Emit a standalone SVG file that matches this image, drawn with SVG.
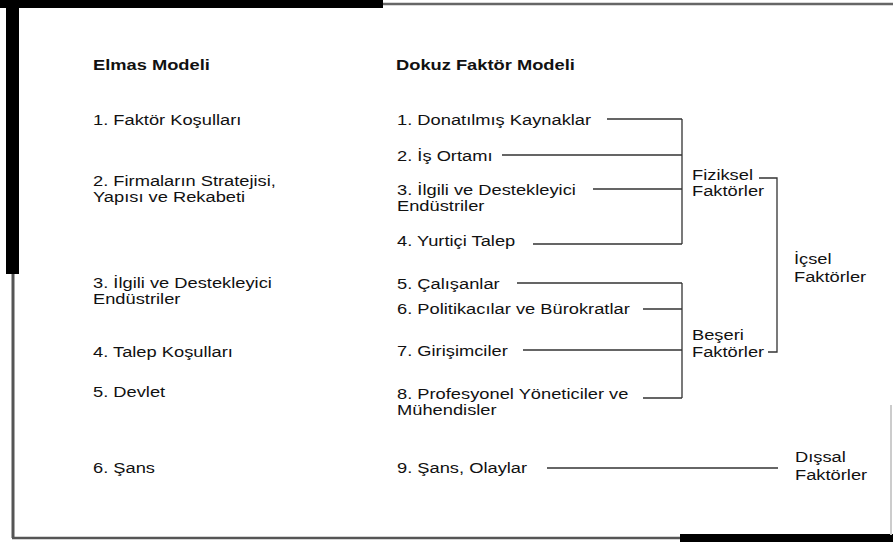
<svg xmlns="http://www.w3.org/2000/svg" width="893" height="543" viewBox="0 0 893 543">
<style>
text{font-family:"Liberation Sans",Arial,sans-serif;font-size:15px;fill:#111}
.b{font-weight:bold}
.c{stroke:#333;stroke-width:1.3;fill:none}
</style>
<rect width="893" height="543" fill="#fff"/>
<g id="frame">
<rect x="0" y="0" width="383" height="8" fill="#000"/>
<rect x="6" y="0" width="13" height="274" fill="#000"/>
<line x1="383" y1="4" x2="893" y2="4" stroke="#666" stroke-width="2.5"/>
<line x1="13" y1="274" x2="13" y2="538" stroke="#555" stroke-width="3"/>
<line x1="12" y1="538" x2="680" y2="538" stroke="#555" stroke-width="2.5"/>
<rect x="680" y="534" width="213" height="8" fill="#000"/>
<line x1="891" y1="405" x2="891" y2="535" stroke="#ccc" stroke-width="2"/>
</g>
<g id="left-column">
<text class="b" transform="translate(93 70) scale(1.22 1)">Elmas Modeli</text>
<text transform="translate(93 125) scale(1.22 1)">1. Faktör Koşulları</text>
<text transform="translate(93 186) scale(1.22 1)">2. Firmaların Stratejisi,<tspan x="0" dy="16">Yapısı ve Rekabeti</tspan></text>
<text transform="translate(93 288) scale(1.22 1)">3. İlgili ve Destekleyici<tspan x="0" dy="16">Endüstriler</tspan></text>
<text transform="translate(93 357) scale(1.22 1)">4. Talep Koşulları</text>
<text transform="translate(93 397) scale(1.22 1)">5. Devlet</text>
<text transform="translate(93 473) scale(1.22 1)">6. Şans</text>
</g>
<g id="right-column">
<text class="b" transform="translate(396 70) scale(1.22 1)">Dokuz Faktör Modeli</text>
<g id="n1"><text transform="translate(397 125) scale(1.22 1)">1. Donatılmış Kaynaklar</text></g>
<g id="n2"><text transform="translate(397 161) scale(1.22 1)">2. İş Ortamı</text></g>
<g id="n3"><text transform="translate(397 195) scale(1.22 1)">3. İlgili ve Destekleyici<tspan x="0" dy="16">Endüstriler</tspan></text></g>
<g id="n4"><text transform="translate(397 246) scale(1.22 1)">4. Yurtiçi Talep</text></g>
<g id="n5"><text transform="translate(397 289) scale(1.22 1)">5. Çalışanlar</text></g>
<g id="n6"><text transform="translate(397 314) scale(1.22 1)">6. Politikacılar ve Bürokratlar</text></g>
<g id="n7"><text transform="translate(397 356) scale(1.22 1)">7. Girişimciler</text></g>
<g id="n8"><text transform="translate(397 399) scale(1.22 1)">8. Profesyonel Yöneticiler ve<tspan x="0" dy="16">Mühendisler</tspan></text></g>
<g id="n9"><text transform="translate(397 473) scale(1.22 1)">9. Şans, Olaylar</text></g>
</g>
<g id="fiziksel"><text transform="translate(692 180) scale(1.22 1)">Fiziksel<tspan x="0" dy="16">Faktörler</tspan></text></g>
<g id="beseri"><text transform="translate(692 340) scale(1.22 1)">Beşeri<tspan x="0" dy="17">Faktörler</tspan></text></g>
<g id="icsel"><text transform="translate(794 264) scale(1.22 1)">İçsel<tspan x="0" dy="18">Faktörler</tspan></text></g>
<g id="dissal"><text transform="translate(795 462) scale(1.22 1)">Dışsal<tspan x="0" dy="18">Faktörler</tspan></text></g>
<g id="connectors" class="c">
<path d="M607 119H682M502 155H682M593 189H682M533 244H682M682 119V244"/>
<path d="M517 283H682M643 309H682M523 350H682M643 398H682M682 283V398"/>
<path d="M759 178H777V352H768"/>
<path d="M547 468H778"/>
</g>
</svg>
